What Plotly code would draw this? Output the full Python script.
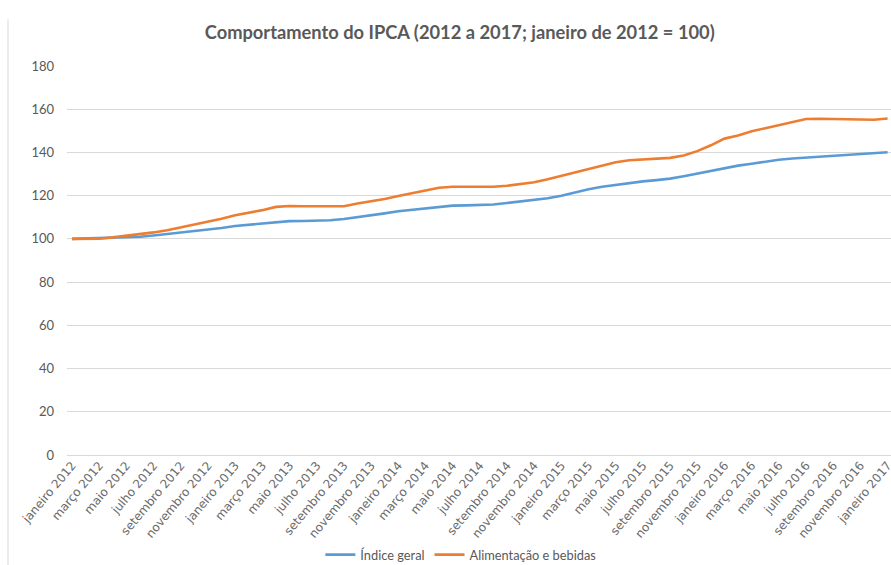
import plotly.graph_objects as go

meses = ["janeiro", "fevereiro", "março", "abril", "maio", "junho", "julho",
         "agosto", "setembro", "outubro", "novembro", "dezembro"]
categorias = [f"{meses[i % 12]} {2012 + i // 12}" for i in range(61)]
rotulos_x = categorias[::2]

indice_geral = [
    100.0, 100.2, 100.4, 100.6, 100.8, 101.0, 101.6, 102.3, 103.0, 103.6, 104.2, 105.0,
    106.0, 106.6, 107.0, 107.6, 108.2, 108.3, 108.4, 108.6, 109.2, 110.0, 110.9, 111.8,
    112.8, 113.5, 114.2, 114.9, 115.4, 115.5, 115.7, 115.9, 116.6, 117.3, 118.0, 118.8,
    120.0, 121.5, 123.0, 124.1, 125.0, 126.0, 126.6, 127.2, 127.9, 129.0, 130.3, 131.6,
    132.8, 133.9, 134.8, 135.8, 136.6, 137.2, 137.6, 137.9, 138.2, 138.6, 139.0, 139.5,
    140.1,
]
alimentacao = [
    100.0, 100.0, 100.1, 100.7, 101.4, 102.2, 103.0, 104.0, 105.3, 106.7, 107.9, 109.3,
    110.9, 112.0, 113.3, 114.8, 115.2, 115.1, 115.0, 115.0, 115.1, 116.4, 117.3, 118.5,
    119.8, 121.2, 122.6, 123.7, 124.1, 124.1, 124.0, 124.1, 124.6, 125.3, 126.2, 127.6,
    129.2, 130.8, 132.2, 133.9, 135.5, 136.4, 136.7, 136.9, 137.5, 138.6, 140.6, 143.3,
    146.4, 147.8, 149.8, 151.2, 152.6, 154.0, 155.5, 155.6, 155.5, 155.4, 155.1, 155.1,
    155.7,
]

cinza = "#595959"
fonte = "Lato, 'Open Sans', sans-serif"

fig = go.Figure()
fig.add_trace(go.Scatter(x=categorias, y=indice_geral, mode="lines", name="Índice geral",
                         line=dict(color="#5b9bd5", width=2.6)))
fig.add_trace(go.Scatter(x=categorias, y=alimentacao, mode="lines", name="Alimentação e bebidas",
                         line=dict(color="#ed7d31", width=2.6)))

fig.update_layout(
    width=891, height=565,
    margin=dict(l=67, r=0, t=66, b=110, autoexpand=False),
    paper_bgcolor="white", plot_bgcolor="white",
    font=dict(family=fonte, color=cinza, size=12),
    title=dict(text="<b>Comportamento do IPCA (2012 a 2017; janeiro de 2012 = 100)</b>",
               x=0.516, xanchor="center", y=0.943, yanchor="middle",
               font=dict(size=18.3, color=cinza, family=fonte)),
    showlegend=True,
    legend=dict(orientation="h", x=0.478, xanchor="center",
                yref="container", y=0.018, yanchor="middle",
                font=dict(size=12.8, color=cinza), itemwidth=30, tracegroupgap=0),
    xaxis=dict(type="category", range=[-0.37, 60.25], tickmode="array",
               tickvals=rotulos_x, ticktext=rotulos_x, tickangle=-50,
               showgrid=False, showline=False, ticks="", zeroline=False, automargin=False,
               tickfont=dict(size=12, color="#6b6b6b", family="'DejaVu Sans', sans-serif")),
    yaxis=dict(range=[0, 180], dtick=20, showgrid=True, gridcolor="#d9d9d9", gridwidth=1,
               zeroline=True, zerolinecolor="#d9d9d9", zerolinewidth=1, automargin=False,
               showline=False, ticks="", ticklabelstandoff=12,
               tickfont=dict(size=13, color=cinza)),
)

# thin border on the left of the chart area
fig.add_shape(type="line", xref="paper", yref="paper",
              x0=-59 / 824, x1=-59 / 824, y0=1.12, y1=-0.3,
              line=dict(color="#d9d9d9", width=1))

fig.write_html("out.html")
